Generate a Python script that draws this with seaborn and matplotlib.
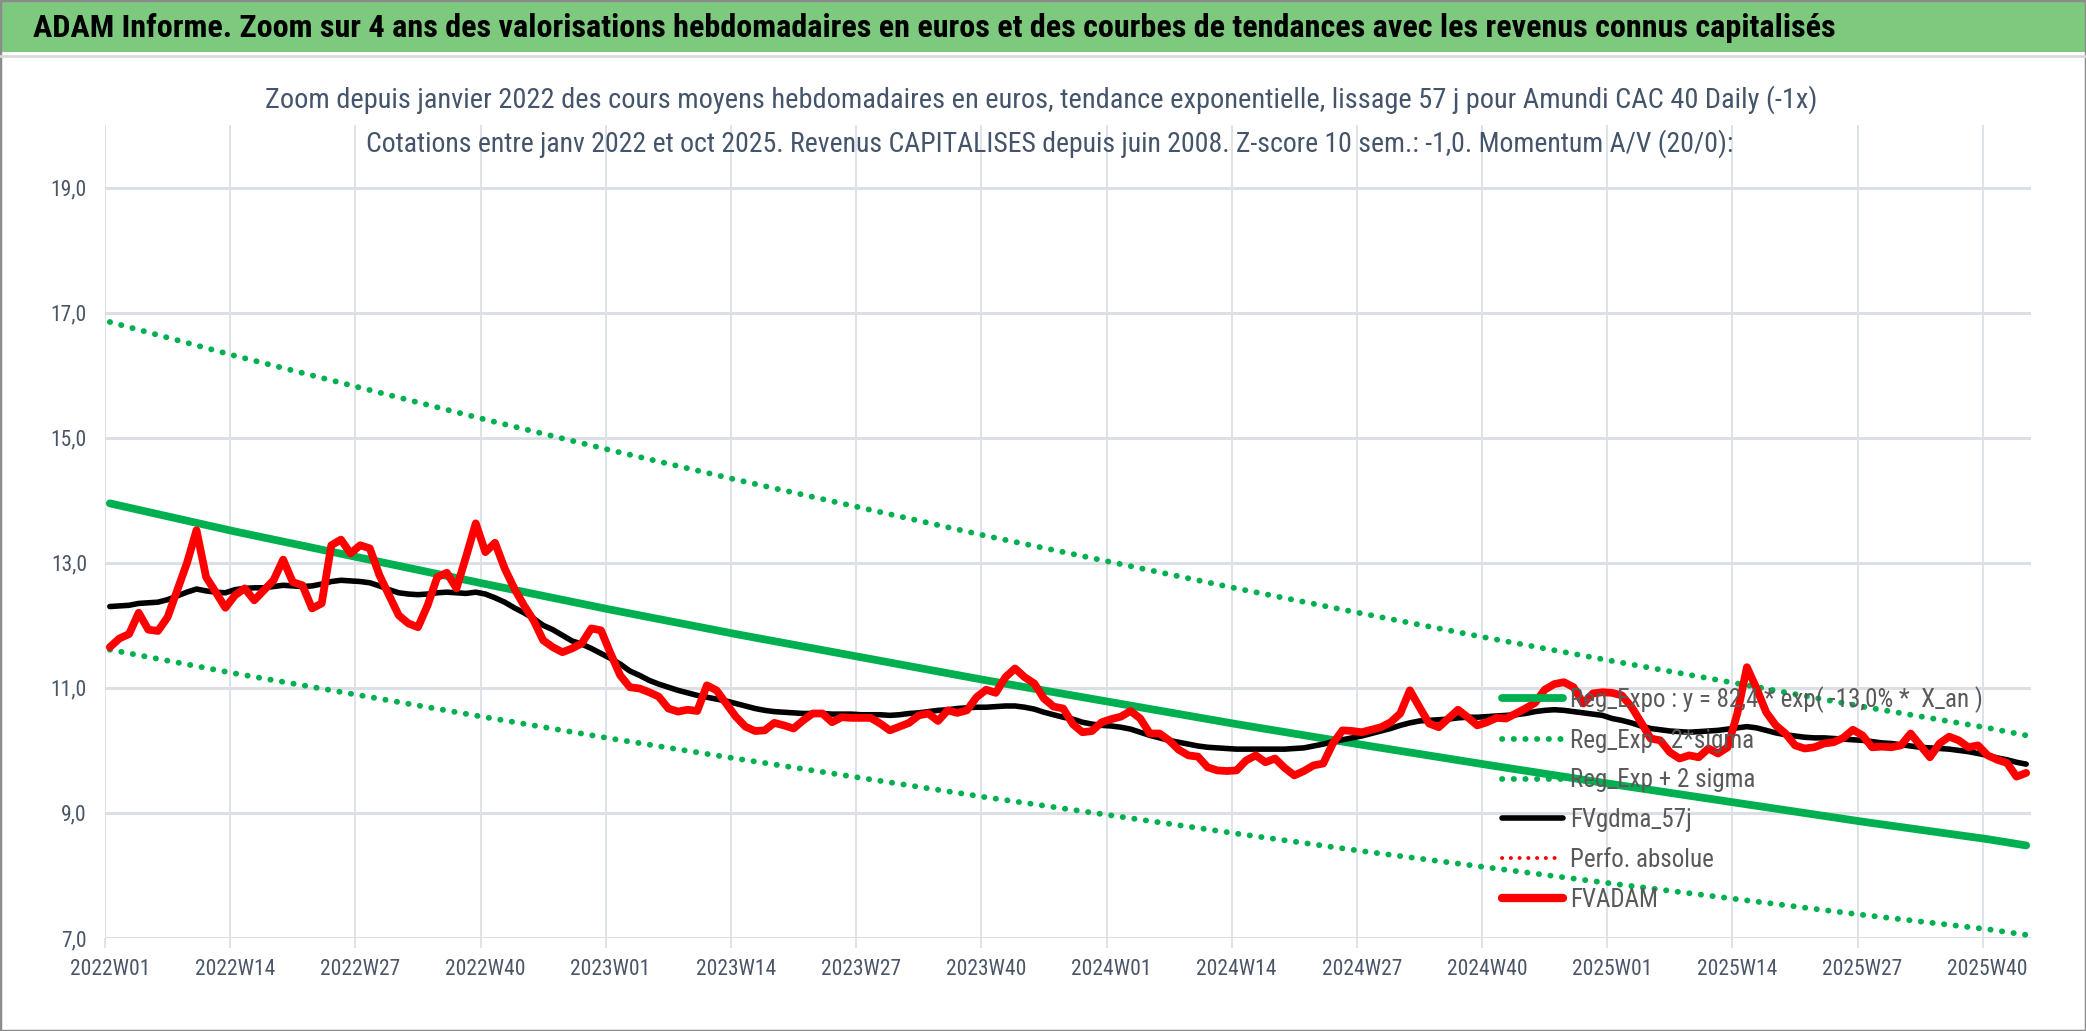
import numpy as np
import pandas as pd
import matplotlib.pyplot as plt
import seaborn as sns
from matplotlib import font_manager
from matplotlib.lines import Line2D
from matplotlib.patches import Rectangle

# weekly categories 2022W01 .. 2025W44
weeks = []
for year, n in [(2022, 52), (2023, 52), (2024, 52), (2025, 44)]:
    weeks += [f"{year}W{w:02d}" for w in range(1, n + 1)]

fvadam = [
    11.65, 11.79, 11.86, 12.20, 11.93, 11.91, 12.13, 12.56, 12.99, 13.52,
    12.77, 12.53, 12.28, 12.48, 12.59, 12.40, 12.56, 12.72, 13.05, 12.69,
    12.64, 12.27, 12.35, 13.28, 13.37, 13.15, 13.28, 13.23, 12.80, 12.48,
    12.16, 12.03, 11.97, 12.32, 12.77, 12.84, 12.59, 13.10, 13.63, 13.17,
    13.32, 12.91, 12.59, 12.32, 12.08, 11.76, 11.65, 11.57, 11.63, 11.71,
    11.95, 11.92, 11.55, 11.20, 11.01, 10.99, 10.93, 10.86, 10.67, 10.62,
    10.65, 10.63, 11.04, 10.96, 10.75, 10.54, 10.38, 10.31, 10.32, 10.44,
    10.40, 10.35, 10.48, 10.59, 10.59, 10.45, 10.53, 10.52, 10.52, 10.52,
    10.43, 10.32, 10.38, 10.44, 10.56, 10.59, 10.47, 10.64, 10.60, 10.64,
    10.85, 10.97, 10.92, 11.17, 11.31, 11.17, 11.07, 10.83, 10.70, 10.67,
    10.42, 10.29, 10.31, 10.45, 10.50, 10.54, 10.63, 10.51, 10.27, 10.27,
    10.16, 10.01, 9.92, 9.90, 9.73, 9.68, 9.67, 9.68, 9.84, 9.92,
    9.81, 9.87, 9.72, 9.60, 9.67, 9.76, 9.79, 10.11, 10.32, 10.31,
    10.29, 10.33, 10.37, 10.45, 10.59, 10.96, 10.69, 10.43, 10.37, 10.51,
    10.65, 10.53, 10.40, 10.45, 10.52, 10.51, 10.59, 10.67, 10.76, 10.97,
    11.06, 11.09, 11.01, 10.75, 10.91, 10.93, 10.92, 10.88, 10.70, 10.45,
    10.19, 10.16, 9.97, 9.87, 9.92, 9.89, 10.03, 9.95, 10.05, 10.59,
    11.33, 10.99, 10.61, 10.40, 10.27, 10.08, 10.03, 10.05, 10.11, 10.13,
    10.20, 10.33, 10.24, 10.05, 10.06, 10.05, 10.08, 10.27, 10.08, 9.89,
    10.11, 10.22, 10.16, 10.05, 10.08, 9.92, 9.85, 9.80, 9.58, 9.64,
]

fvgdma_57j = [
    12.30, 12.31, 12.32, 12.35, 12.36, 12.37, 12.41, 12.47, 12.53, 12.58,
    12.55, 12.53, 12.52, 12.57, 12.59, 12.60, 12.60, 12.62, 12.64, 12.63,
    12.62, 12.63, 12.66, 12.70, 12.72, 12.71, 12.70, 12.68, 12.63, 12.57,
    12.52, 12.50, 12.49, 12.50, 12.52, 12.53, 12.52, 12.51, 12.53, 12.50,
    12.44, 12.37, 12.28, 12.20, 12.11, 12.00, 11.93, 11.84, 11.75, 11.70,
    11.63, 11.55, 11.47, 11.38, 11.27, 11.20, 11.12, 11.06, 11.01, 10.96,
    10.92, 10.88, 10.85, 10.82, 10.79, 10.75, 10.71, 10.67, 10.64, 10.62,
    10.61, 10.60, 10.59, 10.59, 10.59, 10.58, 10.58, 10.58, 10.57, 10.57,
    10.57, 10.56, 10.57, 10.59, 10.60, 10.62, 10.64, 10.65, 10.67, 10.68,
    10.69, 10.69, 10.70, 10.71, 10.71, 10.69, 10.66, 10.61, 10.57, 10.53,
    10.50, 10.45, 10.42, 10.40, 10.39, 10.37, 10.34, 10.29, 10.24, 10.20,
    10.16, 10.13, 10.10, 10.07, 10.05, 10.04, 10.03, 10.02, 10.02, 10.02,
    10.02, 10.02, 10.02, 10.03, 10.04, 10.07, 10.10, 10.14, 10.17, 10.20,
    10.23, 10.27, 10.31, 10.35, 10.40, 10.44, 10.47, 10.48, 10.49, 10.50,
    10.52, 10.53, 10.53, 10.54, 10.55, 10.56, 10.57, 10.59, 10.62, 10.64,
    10.65, 10.64, 10.62, 10.60, 10.58, 10.56, 10.51, 10.48, 10.44, 10.39,
    10.35, 10.33, 10.31, 10.30, 10.29, 10.30, 10.31, 10.32, 10.34, 10.36,
    10.38, 10.36, 10.32, 10.28, 10.25, 10.23, 10.21, 10.20, 10.20, 10.19,
    10.18, 10.17, 10.16, 10.14, 10.12, 10.11, 10.09, 10.07, 10.05, 10.04,
    10.03, 10.02, 10.00, 9.98, 9.95, 9.92, 9.88, 9.85, 9.81, 9.78,
]

# trend lines read at the labelled weeks
reg_weeks = ["2022W01", "2022W14", "2022W27", "2022W40", "2023W01", "2023W14",
             "2023W27", "2023W40", "2024W01", "2024W14", "2024W27", "2024W40",
             "2025W01", "2025W14", "2025W27", "2025W40", "2025W44"]
reg_expo = [13.95, 13.50, 13.08, 12.66, 12.25, 11.86, 11.49, 11.12, 10.77,
            10.42, 10.09, 9.77, 9.46, 9.16, 8.86, 8.58, 8.48]
reg_plus_2s = [16.85, 16.31, 15.80, 15.29, 14.80, 14.33, 13.88, 13.43, 13.01,
               12.59, 12.19, 11.80, 11.43, 11.07, 10.70, 10.36, 10.24]
reg_minus_2s = [11.61, 11.23, 10.88, 10.53, 10.19, 9.87, 9.56, 9.25, 8.96,
                8.67, 8.39, 8.13, 7.87, 7.62, 7.37, 7.14, 7.05]
perfo_absolue = []  # in legend only, nothing visible in this window

tick_weeks = weeks[::13]
y_ticks = [7, 9, 11, 13, 15, 17, 19]

GREEN = '#00B050'
RED = '#FF0000'
TXT = '#4A5568'
GRID = '#DCDFE6'

sns.set_theme(style="white")

# try to get a narrow face like the Excel original (Calibri)
fonts = font_manager.fontManager.ttflist
names = {f.name for f in fonts}
narrow = None
for cand in ['Liberation Sans Narrow', 'Roboto Condensed', 'Open Sans Condensed',
             'DejaVu Sans Condensed', 'Noto Sans Condensed']:
    if cand in names:
        narrow = cand
        break
if narrow is None:
    for f in fonts:
        if f.name in ('DejaVu Sans', 'Noto Sans', 'Open Sans', 'Roboto') and 'condensed' in str(f.stretch):
            narrow = f.name
            plt.rcParams['font.stretch'] = 'condensed'
            break
base = narrow or 'Liberation Sans'
plt.rcParams['font.family'] = [base, 'Liberation Sans', 'DejaVu Sans']

W, H = 2086, 1031
fig = plt.figure(figsize=(W / 100, H / 100), dpi=100)
ax = fig.add_axes([105 / W, 1 - 938 / H, (2031 - 105) / W, (938 - 125) / H])

df = pd.DataFrame({'x': range(len(weeks)), 'fvadam': fvadam, 'fvgdma': fvgdma_57j})
reg_x = [weeks.index(w) for w in reg_weeks]
dots = (0, (0.05, 1.95))

sns.lineplot(x=reg_x, y=reg_plus_2s, ax=ax, color=GREEN, lw=4.2,
             linestyle=dots, dash_capstyle='round', zorder=2)
sns.lineplot(x=reg_x, y=reg_minus_2s, ax=ax, color=GREEN, lw=4.2,
             linestyle=dots, dash_capstyle='round', zorder=2)
sns.lineplot(x=reg_x, y=reg_expo, ax=ax, color=GREEN, lw=5.6, zorder=3)
ax.plot(perfo_absolue, perfo_absolue, color=RED, lw=3, linestyle=':')
sns.lineplot(data=df, x='x', y='fvgdma', ax=ax, color='black', lw=4, zorder=4)
sns.lineplot(data=df, x='x', y='fvadam', ax=ax, color=RED, lw=5.6, zorder=5)

ax.set_xlim(-0.5, len(weeks) - 0.5)
ax.set_ylim(7, 20)
ax.set_xlabel('')
ax.set_ylabel('')
ax.set_xticks([weeks.index(w) for w in tick_weeks])
ax.set_xticklabels(tick_weeks)
ax.set_xticks(np.arange(-0.5, len(weeks), 13), minor=True)
ax.set_yticks(y_ticks)
ax.set_yticklabels([f"{v:.1f}".replace('.', ',') for v in y_ticks])
ax.grid(False)
ax.grid(which='minor', axis='x', color=GRID, lw=1.3)
ax.grid(which='major', axis='y', color=GRID, lw=2.2)
ax.tick_params(axis='x', which='major', length=0, pad=15, labelsize=16.5, labelcolor=TXT)
ax.tick_params(axis='x', which='minor', bottom=True, length=7, width=1.3, color=GRID)
ax.tick_params(axis='y', length=0, pad=13, labelsize=16.5, labelcolor=TXT)
for s in ax.spines.values():
    s.set_visible(False)

handles = [
    Line2D([], [], color=GREEN, lw=5.6),
    Line2D([], [], color=GREEN, lw=4.2, linestyle=dots, dash_capstyle='round'),
    Line2D([], [], color=GREEN, lw=4.2, linestyle=dots, dash_capstyle='round'),
    Line2D([], [], color='black', lw=4),
    Line2D([], [], color=RED, lw=2.8, linestyle=(0, (0.05, 2.2)), dash_capstyle='round'),
    Line2D([], [], color=RED, lw=6),
]
labels = ["Reg_Expo : y = 82,4 * exp( -13,0% *  X_an )", "Reg_Exp - 2*sigma",
          "Reg_Exp + 2 sigma", "FVgdma_57j", "Perfo. absolue", "FVADAM"]

# header band and titles
fig.add_artist(Rectangle((0, 1 - 52 / H), 1, 52 / H, transform=fig.transFigure,
                         facecolor='#7DC97E', edgecolor='none', zorder=0))
fig.add_artist(Line2D([0, 1], [1 - 56 / H] * 2, transform=fig.transFigure,
                      color='#D9D9D9', lw=2))
title = fig.text(33 / W, 1 - 28 / H,
                 "ADAM Informe. Zoom sur 4 ans des valorisations hebdomadaires en euros et des courbes de tendances avec les revenus connus capitalisés",
                 ha='left', va='center', fontsize=25, fontweight='bold', color='black')
sub1 = fig.text(1041 / W, 1 - 100 / H,
                "Zoom depuis janvier 2022 des cours moyens hebdomadaires en euros, tendance exponentielle, lissage 57 j pour Amundi CAC 40 Daily (-1x)",
                ha='center', va='center', fontsize=20, color='#44546A')
sub2 = fig.text(1050 / W, 1 - 144 / H,
                "Cotations entre janv 2022 et oct 2025. Revenus CAPITALISES depuis juin 2008. Z-score 10 sem.: -1,0. Momentum A/V (20/0):",
                ha='center', va='center', fontsize=20, color='#44546A')
fig.add_artist(Rectangle((0, 0), 1, 1, transform=fig.transFigure, fill=False,
                         edgecolor='#8C8C8C', lw=2.5))

# scale the font sizes so the texts take the widths they have in the original
fig.canvas.draw()
rend = fig.canvas.get_renderer()


def fit(txt, width_px, cap=None):
    w = txt.get_window_extent(rend).width
    size = txt.get_fontsize() * width_px / w
    if cap:
        size = min(size, cap)
    txt.set_fontsize(size)
    return size


fit(title, 1807, cap=27)
fit(sub1, 1550, cap=21)
fit(sub2, 1367, cap=21)
tick_size = fit(ax.get_xticklabels()[0], 80, cap=17.5)
ax.tick_params(axis='both', which='major', labelsize=tick_size)

probe = fig.text(0, 0, labels[0], fontsize=17)
leg_size = min(17 * 428 / probe.get_window_extent(rend).width, 18)
probe.remove()
size_px = leg_size * 100 / 72

leg = ax.legend(handles, labels, loc='upper left', bbox_to_anchor=(1492 / W, 1 - 676 / H),
                bbox_transform=fig.transFigure, frameon=False, fontsize=leg_size,
                handlelength=61 / size_px, handletextpad=0.3,
                labelspacing=(45 - 1.17 * size_px) / size_px,
                borderaxespad=0)
for t in leg.get_texts():
    t.set_color('#595959')
leg.set_zorder(10)

fig.savefig('out.png', dpi=100)
